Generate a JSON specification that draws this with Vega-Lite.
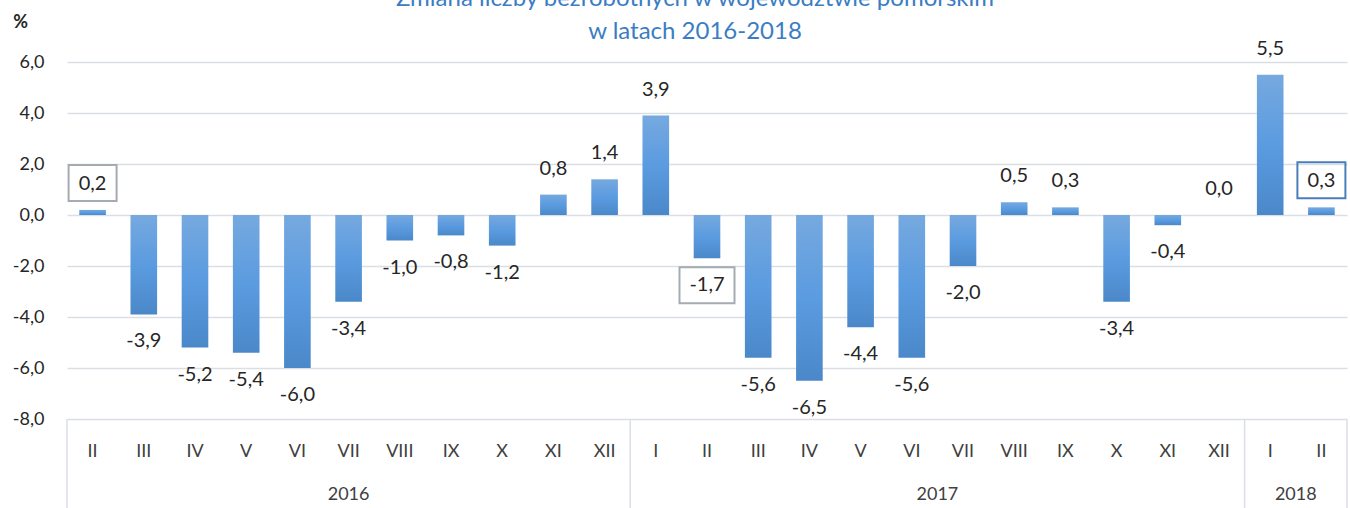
{
  "$schema": "https://vega.github.io/schema/vega-lite/v6.json",
  "width": 1280,
  "height": 357,
  "autosize": {"type": "none"},
  "padding": {"left": 67, "top": 62, "right": 3, "bottom": 89},
  "background": "white",
  "config": {
    "view": {"stroke": null},
    "font": "Lato",
    "locale": {"number": {"decimal": ",", "thousands": " ", "grouping": [3], "currency": ["", " zł"], "minus": "-"}}
  },
  "title": {
    "text": ["Zmiana liczby bezrobotnych w województwie pomorskim", "w latach 2016-2018"],
    "color": "#3b7dc4",
    "fontSize": 24,
    "font": "Lato",
    "fontWeight": "normal",
    "lineHeight": 33,
    "anchor": "middle",
    "offset": -50,
    "baseline": "alphabetic",
    "dx": -12
  },
  "data": {
    "values": [
      {"key": "2016-II", "year": "2016", "month": "II", "value": 0.2},
      {"key": "2016-III", "year": "2016", "month": "III", "value": -3.9},
      {"key": "2016-IV", "year": "2016", "month": "IV", "value": -5.2},
      {"key": "2016-V", "year": "2016", "month": "V", "value": -5.4},
      {"key": "2016-VI", "year": "2016", "month": "VI", "value": -6.0},
      {"key": "2016-VII", "year": "2016", "month": "VII", "value": -3.4},
      {"key": "2016-VIII", "year": "2016", "month": "VIII", "value": -1.0},
      {"key": "2016-IX", "year": "2016", "month": "IX", "value": -0.8},
      {"key": "2016-X", "year": "2016", "month": "X", "value": -1.2},
      {"key": "2016-XI", "year": "2016", "month": "XI", "value": 0.8},
      {"key": "2016-XII", "year": "2016", "month": "XII", "value": 1.4},
      {"key": "2017-I", "year": "2017", "month": "I", "value": 3.9},
      {"key": "2017-II", "year": "2017", "month": "II", "value": -1.7},
      {"key": "2017-III", "year": "2017", "month": "III", "value": -5.6},
      {"key": "2017-IV", "year": "2017", "month": "IV", "value": -6.5},
      {"key": "2017-V", "year": "2017", "month": "V", "value": -4.4},
      {"key": "2017-VI", "year": "2017", "month": "VI", "value": -5.6},
      {"key": "2017-VII", "year": "2017", "month": "VII", "value": -2.0},
      {"key": "2017-VIII", "year": "2017", "month": "VIII", "value": 0.5},
      {"key": "2017-IX", "year": "2017", "month": "IX", "value": 0.3},
      {"key": "2017-X", "year": "2017", "month": "X", "value": -3.4},
      {"key": "2017-XI", "year": "2017", "month": "XI", "value": -0.4},
      {"key": "2017-XII", "year": "2017", "month": "XII", "value": 0.0},
      {"key": "2018-I", "year": "2018", "month": "I", "value": 5.5},
      {"key": "2018-II", "year": "2018", "month": "II", "value": 0.3}
    ]
  },
  "encoding": {
    "x": {
      "field": "key",
      "type": "nominal",
      "sort": null,
      "scale": {"paddingInner": 0, "paddingOuter": 0},
      "axis": {
        "title": null,
        "labelExpr": "split(datum.value, '-')[1]",
        "labelAngle": 0,
        "ticks": false,
        "domain": false,
        "grid": false,
        "labelFontSize": 18,
        "labelColor": "#404040",
        "labelBaseline": "middle",
        "labelPadding": 32
      }
    }
  },
  "layer": [
    {
      "mark": {
        "type": "bar",
        "width": {"band": 0.52},
        "color": {
          "gradient": "linear",
          "x1": 0, "y1": 0, "x2": 0, "y2": 1,
          "stops": [
            {"offset": 0, "color": "#76a9df"},
            {"offset": 0.5, "color": "#5b9be0"},
            {"offset": 1, "color": "#4a88c9"}
          ]
        }
      },
      "encoding": {
        "y": {
          "field": "value",
          "type": "quantitative",
          "scale": {"domain": [-8, 6], "nice": false},
          "axis": {
            "values": [-8, -6, -4, -2, 0, 2, 4, 6],
            "format": ".1f",
            "grid": true,
            "gridColor": "#dadfe6",
            "gridWidth": 1.5,
            "domain": false,
            "ticks": false,
            "labelPadding": 23,
            "labelFontSize": 18,
            "labelColor": "#262626",
            "title": "%",
            "titleAngle": 0,
            "titleX": -47,
            "titleY": -40,
            "titleAlign": "center",
            "titleBaseline": "middle",
            "titleFontSize": 18,
            "titleFontWeight": "bold",
            "titleColor": "#262626"
          }
        }
      }
    },
    {
      "transform": [{"filter": "datum.value >= 0"}],
      "mark": {"type": "text", "baseline": "middle", "dy": -26, "fontSize": 20, "color": "#262626"},
      "encoding": {
        "y": {"field": "value", "type": "quantitative"},
        "text": {"field": "value", "type": "quantitative", "format": ".1f"}
      }
    },
    {
      "transform": [{"filter": "datum.value < 0"}],
      "mark": {"type": "text", "baseline": "middle", "dy": 27, "fontSize": 20, "color": "#262626"},
      "encoding": {
        "y": {"field": "value", "type": "quantitative"},
        "text": {"field": "value", "type": "quantitative", "format": ".1f"}
      }
    },
    {
      "transform": [{"filter": "datum.month == 'II' && datum.value >= 0"}],
      "mark": {"type": "point", "shape": "M-1,-0.75H1V0.75H-1Z", "size": 2304, "filled": false, "strokeWidth": 2, "yOffset": -27, "opacity": 1},
      "encoding": {
        "y": {"field": "value", "type": "quantitative"},
        "stroke": {"condition": {"test": "datum.year == '2018'", "value": "#4a7ebb"}, "value": "#a5abb3"}
      }
    },
    {
      "transform": [{"filter": "datum.month == 'II' && datum.value < 0"}],
      "mark": {"type": "point", "shape": "M-1,-0.655H1V0.655H-1Z", "size": 3025, "filled": false, "strokeWidth": 2, "yOffset": 27, "opacity": 1},
      "encoding": {
        "y": {"field": "value", "type": "quantitative"},
        "stroke": {"value": "#a5abb3"}
      }
    },
    {
      "transform": [{"filter": "datum.key == '2016-II' || datum.key == '2017-I' || datum.key == '2018-I'"}],
      "mark": {"type": "rule", "color": "#dadfe6", "strokeWidth": 1.5},
      "encoding": {
        "x": {"field": "key", "type": "nominal", "sort": null, "bandPosition": 0},
        "y": {"datum": -8},
        "y2": {"datum": -11.6}
      }
    },
    {
      "transform": [{"filter": "datum.key == '2018-II'"}],
      "mark": {"type": "rule", "color": "#dadfe6", "strokeWidth": 1.5},
      "encoding": {
        "x": {"field": "key", "type": "nominal", "sort": null, "bandPosition": 1},
        "y": {"datum": -8},
        "y2": {"datum": -11.6}
      }
    },
    {
      "transform": [{"filter": "datum.key == '2016-VII'"}],
      "mark": {"type": "text", "baseline": "middle", "dy": 76, "fontSize": 18, "color": "#404040"},
      "encoding": {
        "x": {"field": "key", "type": "nominal", "sort": null, "bandPosition": 0.5},
        "y": {"datum": -8},
        "text": {"field": "year"}
      }
    },
    {
      "transform": [{"filter": "datum.key == '2017-VI' || datum.key == '2018-I'"}],
      "mark": {"type": "text", "baseline": "middle", "dy": 76, "fontSize": 18, "color": "#404040"},
      "encoding": {
        "x": {"field": "key", "type": "nominal", "sort": null, "bandPosition": 1},
        "y": {"datum": -8},
        "text": {"field": "year"}
      }
    }
  ]
}
